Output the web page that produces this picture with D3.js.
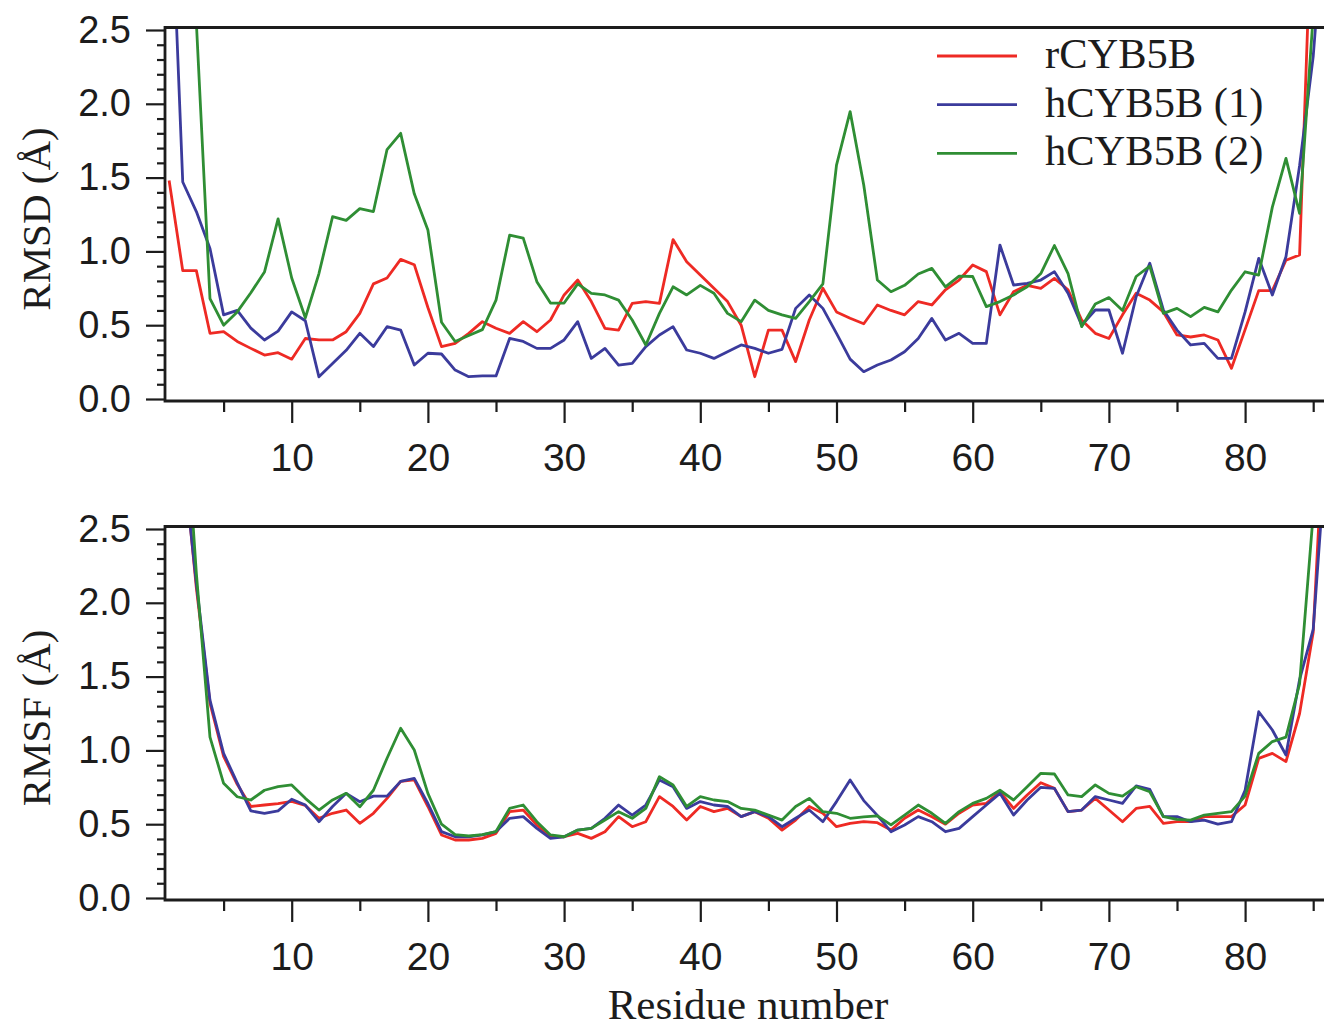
<html>
<script src="https://d3js.org/d3.v7.min.js"></script>
<style>
body{
    margin:0;
    background:#fff;
}
svg{
    display:block;
}
</style>
<body>
<div class="chart"></div>
</body>
<script>
const residues = d3.range(1, 87);
const seriesNames = ['rCYB5B', 'hCYB5B (1)', 'hCYB5B (2)'];
const seriesColors = ['#ee2a24', '#3b3b9c', '#2f8e34'];

const rmsdR = [
  1.48, 0.87, 0.87, 0.445, 0.456, 0.39, 0.343, 0.298, 0.314, 0.27,
  0.41, 0.40, 0.40, 0.456, 0.58, 0.78, 0.82, 0.946, 0.91, 0.62,
  0.355, 0.377, 0.445, 0.524, 0.479, 0.445, 0.524, 0.456, 0.535, 0.705,
  0.806, 0.66, 0.479, 0.467, 0.648, 0.66, 0.648, 1.08, 0.93, 0.84,
  0.75, 0.66, 0.50, 0.151, 0.467, 0.467, 0.253, 0.535, 0.75, 0.59,
  0.547, 0.51, 0.637, 0.60, 0.57, 0.66, 0.637, 0.74, 0.806, 0.908,
  0.863, 0.57, 0.727, 0.77, 0.75, 0.817, 0.74, 0.535, 0.445, 0.41,
  0.57, 0.716, 0.67, 0.59, 0.434, 0.42, 0.434, 0.40, 0.208, 0.47,
  0.734, 0.734, 0.94, 0.976, 3.6, 4.0
];
const rmsdH1 = [
  3.8, 1.47, 1.27, 1.02, 0.57, 0.60, 0.48, 0.40, 0.46, 0.59,
  0.53, 0.15, 0.24, 0.33, 0.445, 0.355, 0.49, 0.467, 0.23, 0.31,
  0.305, 0.196, 0.151, 0.156, 0.156, 0.41, 0.39, 0.343, 0.343, 0.40,
  0.524, 0.275, 0.343, 0.23, 0.242, 0.355, 0.434, 0.49, 0.332, 0.31,
  0.275, 0.32, 0.366, 0.343, 0.31, 0.336, 0.614, 0.705, 0.614, 0.445,
  0.27, 0.185, 0.23, 0.264, 0.32, 0.41, 0.546, 0.40, 0.445, 0.377,
  0.377, 1.043, 0.772, 0.784, 0.806, 0.863, 0.716, 0.50, 0.603, 0.603,
  0.31, 0.693, 0.92, 0.603, 0.467, 0.366, 0.377, 0.275, 0.275, 0.59,
  0.953, 0.705, 0.964, 1.58, 2.32, 3.5
];
const rmsdH2 = [
  4.5, 4.5, 2.55, 0.68, 0.50, 0.59, 0.72, 0.86, 1.22, 0.82,
  0.55, 0.85, 1.235, 1.21, 1.29, 1.27, 1.69, 1.80, 1.39, 1.145,
  0.52, 0.39, 0.43, 0.47, 0.67, 1.11, 1.09, 0.795, 0.65, 0.65,
  0.78, 0.716, 0.705, 0.67, 0.535, 0.366, 0.58, 0.76, 0.705, 0.77,
  0.716, 0.58, 0.524, 0.67, 0.60, 0.57, 0.546, 0.66, 0.78, 1.585,
  1.947, 1.45, 0.806, 0.727, 0.77, 0.847, 0.885, 0.76, 0.833, 0.83,
  0.626, 0.66, 0.705, 0.76, 0.85, 1.04, 0.85, 0.49, 0.644, 0.687,
  0.60, 0.83, 0.90, 0.58, 0.614, 0.558, 0.621, 0.59, 0.738, 0.862,
  0.84, 1.30, 1.63, 1.258, 2.6, 4.0
];

const rmsfR = [
  4.0, 3.05, 2.1, 1.32, 0.96, 0.77, 0.62, 0.63, 0.64, 0.655,
  0.627, 0.54, 0.574, 0.596, 0.506, 0.574, 0.675, 0.79, 0.80, 0.62,
  0.427, 0.393, 0.393, 0.404, 0.438, 0.585, 0.596, 0.495, 0.415, 0.415,
  0.438, 0.404, 0.449, 0.551, 0.483, 0.517, 0.687, 0.62, 0.528, 0.62,
  0.585, 0.607, 0.551, 0.585, 0.54, 0.46, 0.528, 0.62, 0.574, 0.483,
  0.506, 0.517, 0.51, 0.46, 0.54, 0.596, 0.551, 0.50, 0.574, 0.63,
  0.641, 0.72, 0.607, 0.698, 0.781, 0.743, 0.585, 0.596, 0.675, 0.596,
  0.517, 0.607, 0.62, 0.506, 0.517, 0.517, 0.551, 0.551, 0.551, 0.63,
  0.946, 0.98, 0.924, 1.25, 1.8, 3.6
];
const rmsfH1 = [
  4.0, 3.0, 2.13, 1.34, 0.98, 0.78, 0.59, 0.574, 0.59, 0.669,
  0.63, 0.517, 0.62, 0.709, 0.652, 0.69, 0.69, 0.79, 0.81, 0.64,
  0.45, 0.415, 0.415, 0.427, 0.45, 0.54, 0.551, 0.472, 0.404, 0.415,
  0.46, 0.472, 0.54, 0.63, 0.562, 0.63, 0.80, 0.754, 0.607, 0.653,
  0.63, 0.62, 0.551, 0.585, 0.551, 0.483, 0.54, 0.596, 0.517, 0.653,
  0.80, 0.66, 0.56, 0.449, 0.495, 0.551, 0.517, 0.449, 0.472, 0.551,
  0.63, 0.709, 0.562, 0.664, 0.75, 0.743, 0.585, 0.596, 0.687, 0.664,
  0.641, 0.759, 0.736, 0.551, 0.551, 0.517, 0.528, 0.50, 0.517, 0.73,
  1.262, 1.138, 0.969, 1.48, 1.82, 3.1
];
const rmsfH2 = [
  5.0, 3.56, 2.2, 1.09, 0.777, 0.686, 0.664, 0.73, 0.754, 0.766,
  0.675, 0.596, 0.664, 0.709, 0.618, 0.73, 0.947, 1.15, 1.003, 0.709,
  0.50, 0.43, 0.42, 0.43, 0.45, 0.607, 0.63, 0.517, 0.427, 0.415,
  0.46, 0.472, 0.528, 0.585, 0.54, 0.607, 0.822, 0.766, 0.62, 0.687,
  0.664, 0.653, 0.607, 0.596, 0.562, 0.528, 0.62, 0.675, 0.585, 0.574,
  0.54, 0.55, 0.556, 0.495, 0.562, 0.63, 0.574, 0.506, 0.585, 0.641,
  0.675, 0.73, 0.664, 0.754, 0.845, 0.84, 0.698, 0.687, 0.766, 0.709,
  0.69, 0.754, 0.72, 0.551, 0.533, 0.528, 0.562, 0.574, 0.585, 0.69,
  0.98, 1.06, 1.09, 1.45, 2.6, 4.5
];

const xMajorTicks = [10, 20, 30, 40, 50, 60, 70, 80];
const xMinorTicks = [5, 15, 25, 35, 45, 55, 65, 75, 85];
const yMajorTicks = [0, 0.5, 1.0, 1.5, 2.0, 2.5];
const yMinorTicks = [0.1, 0.2, 0.3, 0.4, 0.6, 0.7, 0.8, 0.9, 1.1, 1.2, 1.3, 1.4,
                     1.6, 1.7, 1.8, 1.9, 2.1, 2.2, 2.3, 2.4];

const panels = [
  {id: 'rmsd', title: 'RMSD (Å)', offset: 0, series: [rmsdR, rmsdH1, rmsdH2], legend: true},
  {id: 'rmsf', title: 'RMSF (Å)', offset: 499, series: [rmsfR, rmsfH1, rmsfH2], legend: false}
];

const W = 1324, H = 1030;
const sans = '"Liberation Sans", Arial, Helvetica, sans-serif';
const serif = '"Liberation Serif", "Times New Roman", serif';
const ink = '#1c1c1c';

const svg = d3.select('.chart')
  .append('svg')
    .attr('width', W)
    .attr('height', H);

svg.append('rect').attr('width', W).attr('height', H).attr('fill', '#fff');

const x = d3.scaleLinear()
  .domain([0, 90])
  .range([155.5, 155.5 + 13.62 * 90]);

const frameLeft = 165, frameRight = 1345;

panels.forEach(p => {
  const y = d3.scaleLinear()
    .domain([0, 2.5])
    .range([399 + p.offset, 30 + p.offset]);
  const axisY = 401 + p.offset;
  const frameTop = 27.5 + p.offset;

  const g = svg.append('g').attr('class', p.id);

  g.append('clipPath')
      .attr('id', `clip-${p.id}`)
    .append('rect')
      .attr('x', frameLeft)
      .attr('y', frameTop + 1)
      .attr('width', frameRight - frameLeft)
      .attr('height', axisY - frameTop - 1);

  const line = d3.line()
    .x((d, i) => x(residues[i]))
    .y(d => y(d));

  g.append('g')
      .attr('clip-path', `url(#clip-${p.id})`)
    .selectAll('path')
    .data(p.series)
    .enter()
    .append('path')
      .attr('d', d => line(d))
      .attr('fill', 'none')
      .attr('stroke', (d, i) => seriesColors[i])
      .attr('stroke-width', 2.8)
      .attr('stroke-linejoin', 'round');

  // frame
  g.append('path')
    .attr('d', `M${frameRight},${frameTop}H${frameLeft}V${axisY}H${frameRight}`)
    .attr('fill', 'none')
    .attr('stroke', ink)
    .attr('stroke-width', 2.8);

  // y axis
  const yMinor = d3.axisLeft(y).tickValues(yMinorTicks).tickSize(8).tickFormat('');
  const yMajor = d3.axisLeft(y).tickValues(yMajorTicks).tickSize(19).tickPadding(15)
    .tickFormat(d3.format('.1f'));

  g.append('g')
      .attr('transform', `translate(${frameLeft},0)`)
      .call(yMinor)
      .call(a => a.select('.domain').remove());
  g.append('g')
      .attr('transform', `translate(${frameLeft},0)`)
      .call(yMajor)
      .call(a => a.select('.domain').remove())
      .call(a => a.selectAll('text')
        .attr('font-family', sans)
        .attr('font-size', 38)
        .attr('fill', ink));

  // x axis
  const xMinor = d3.axisBottom(x).tickValues(xMinorTicks).tickSize(11).tickFormat('');
  const xMajor = d3.axisBottom(x).tickValues(xMajorTicks).tickSize(22).tickPadding(20);

  g.append('g')
      .attr('transform', `translate(0,${axisY})`)
      .call(xMinor)
      .call(a => a.select('.domain').remove());
  g.append('g')
      .attr('transform', `translate(0,${axisY})`)
      .call(xMajor)
      .call(a => a.select('.domain').remove())
      .call(a => a.selectAll('text')
        .attr('font-family', sans)
        .attr('font-size', 39)
        .attr('fill', ink));

  g.selectAll('.tick line')
    .attr('stroke', ink)
    .attr('stroke-width', 2.2);

  g.append('text')
    .attr('transform', `translate(50,${219 + p.offset}) rotate(-90)`)
    .attr('text-anchor', 'middle')
    .attr('font-family', serif)
    .attr('font-size', 41)
    .attr('fill', ink)
    .text(p.title);

  if (p.legend) {
    const leg = g.append('g')
      .selectAll('g')
      .data(seriesNames)
      .enter()
      .append('g')
        .attr('transform', (d, i) => `translate(0,${i * 48.7})`);
    leg.append('line')
      .attr('x1', 937).attr('x2', 1017)
      .attr('y1', 56).attr('y2', 56)
      .attr('stroke', (d, i) => seriesColors[i])
      .attr('stroke-width', 2.8);
    leg.append('text')
      .attr('x', 1045)
      .attr('y', 68)
      .attr('font-family', serif)
      .attr('font-size', 42.5)
      .attr('fill', ink)
      .text(d => d);
  }
});

svg.append('text')
  .attr('x', 748)
  .attr('y', 1019)
  .attr('text-anchor', 'middle')
  .attr('font-family', serif)
  .attr('font-size', 43)
  .attr('fill', ink)
  .text('Residue number');
</script>
</html>
